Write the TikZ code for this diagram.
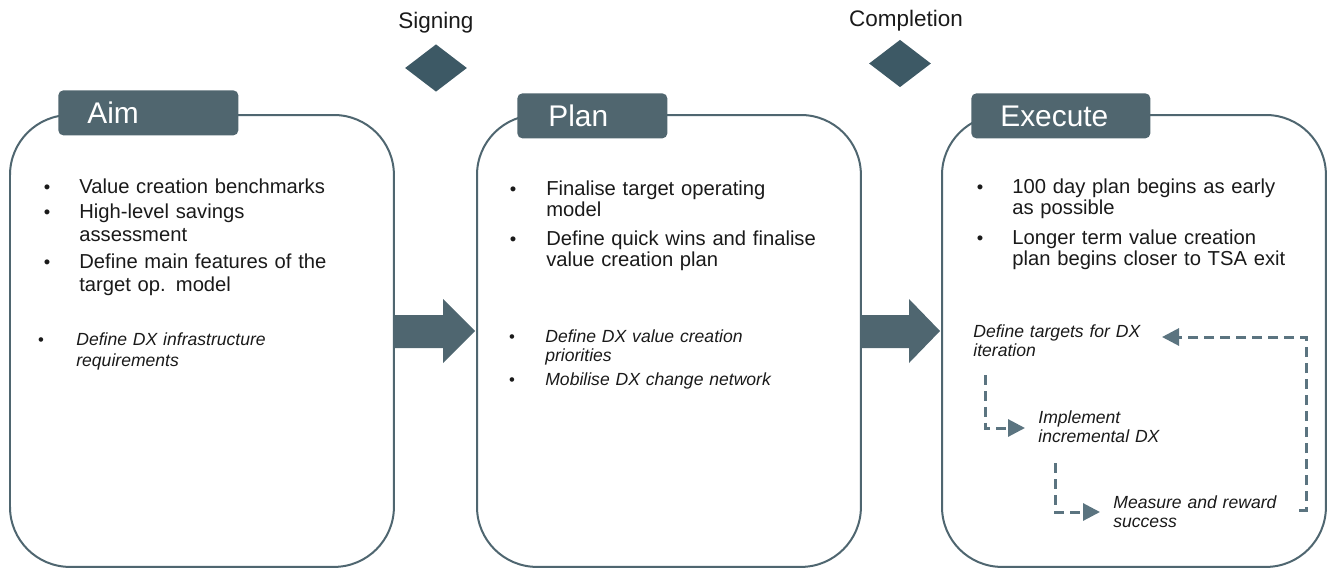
\documentclass[tikz,border=0pt]{standalone}
\usepackage{fontspec}
\setmainfont{Liberation Sans}
\usetikzlibrary{shapes.geometric,arrows.meta}
\definecolor{labc}{HTML}{50666F}
\definecolor{diac}{HTML}{3D5965}
\definecolor{boxc}{HTML}{4F6670}
\definecolor{dashc}{HTML}{5B7480}
\definecolor{txtc}{HTML}{1A1A1A}
\tikzset{
  phase/.style={draw=boxc, line width=0.04cm, rounded corners=1.2cm, fill=white,
    anchor=north west, minimum width=7.68cm, minimum height=9.04cm, inner sep=0},
  lab/.style={fill=labc, rounded corners=0.1cm, anchor=north west, inner sep=0,
    minimum height=0.9cm, text=white, font=\fontsize{17}{20}\selectfont,
    text height=12.2pt, text depth=0pt, align=left},
  milestone/.style={diamond, fill=diac, inner sep=0, minimum width=1.24cm, minimum height=0.95cm},
  mtext/.style={anchor=base, inner sep=0, text=txtc, font=\fontsize{12.8}{15}\selectfont},
  txt/.style={anchor=base west, inner sep=0, text=txtc, text width=8cm, align=left},
  mainA/.style={txt, font=\fontsize{11.5}{13.6}\selectfont},
  mainB/.style={txt, font=\fontsize{11.5}{12.5}\selectfont},
  ital/.style={txt, font=\fontsize{10}{11.3}\selectfont\itshape},
  bul/.style={anchor=base, inner sep=0, text=txtc, font=\fontsize{10.5}{12}\selectfont},
  ibul/.style={anchor=base, inner sep=0, text=txtc, font=\fontsize{9.5}{11}\selectfont},
  bigarrow/.style={fill=boxc},
  dasharr/.style={draw=dashc, line width=0.06cm, dash pattern=on 0.2cm off 0.12cm,
    -{Triangle[length=0.34cm,width=0.34cm]}},
}
\begin{document}
\begin{tikzpicture}[x=0.02cm,y=-0.02cm]
\useasboundingbox (0,0) rectangle (1331,568);

% milestones
\node[mtext] (signt) at (436,29) {Signing};
\node[milestone] (sign) at (436,68) {};
\node[mtext] (compt) at (906,27) {Completion};
\node[milestone] (comp) at (900,63.5) {};

% phase boxes
\node[phase] (aim) at (9,114) {};
\node[phase] (plan) at (476,114) {};
\node[phase] (exec) at (941,114) {};

% labels
\node[lab, minimum width=3.6cm, text width=2.44cm, inner xsep=0.58cm] (aimlab) at (58,90) {Aim};
\node[lab, minimum width=3.0cm, text width=1.76cm, inner xsep=0.62cm] (planlab) at (517,93) {Plan};
\node[lab, minimum width=3.58cm, text width=2.42cm, inner xsep=0.58cm] (execlab) at (971,93) {Execute};

% block arrows
\fill[bigarrow] (393,315) -- (443,315) -- (443,299) -- (475,331) -- (443,363) -- (443,348) -- (393,348) -- cycle;
\fill[bigarrow] (860,315) -- (909,315) -- (909,299) -- (940,331) -- (909,363) -- (909,348) -- (860,348) -- cycle;

% Aim texts
\node[bul] (ab1) at (47,193) {•};
\node[mainA] (a1) at (79,193) {Value creation benchmarks};
\node[bul] (ab2) at (47,218) {•};
\node[mainA] (a2) at (79,218) {High-level savings\\assessment};
\node[bul] (ab3) at (47,268) {•};
\node[mainA] (a3) at (79,268) {Define main features of the\\target op. model};
\node[ibul] (ab4) at (41,345) {•};
\node[ital, font=\fontsize{10}{12.4}\selectfont\itshape] (a4) at (76,345) {Define DX infrastructure\\requirements};

% Plan texts
\node[bul] (pb1) at (513,195) {•};
\node[mainB] (p1) at (546,195) {Finalise target operating\\model};
\node[bul] (pb2) at (513,245) {•};
\node[mainB] (p2) at (546,245) {Define quick wins and finalise\\value creation plan};
\node[ibul] (pb3) at (512,342) {•};
\node[ital] (p3) at (545,342) {Define DX value creation\\priorities};
\node[ibul] (pb4) at (512,385) {•};
\node[ital] (p4) at (545,385) {Mobilise DX change network};

% Execute texts
\node[bul] (eb1) at (980,193) {•};
\node[mainB] (e1) at (1012,193) {100 day plan begins as early\\as possible};
\node[bul] (eb2) at (980,244) {•};
\node[mainB] (e2) at (1012,244) {Longer term value creation\\plan begins closer to TSA exit};
\node[ital] (dt) at (973,337) {Define targets for DX\\iteration};
\node[ital] (im) at (1038,423) {Implement\\incremental DX};
\node[ital] (ms) at (1113,508) {Measure and reward\\success};

% dashed cycle
\coordinate (d1s) at (985,375);
\coordinate (d1e) at (1025,428);
\coordinate (d2s) at (1055,463);
\coordinate (d2e) at (1100,512);
\coordinate (ls) at (1299,510);
\coordinate (lc) at (1306,337);
\coordinate (le) at (1162,337);
\draw[dasharr] (d1s) |- (d1e);
\draw[dasharr] (d2s) |- (d2e);
\draw[dasharr] (ls) -| (lc) -- (le);
\end{tikzpicture}
\end{document}
